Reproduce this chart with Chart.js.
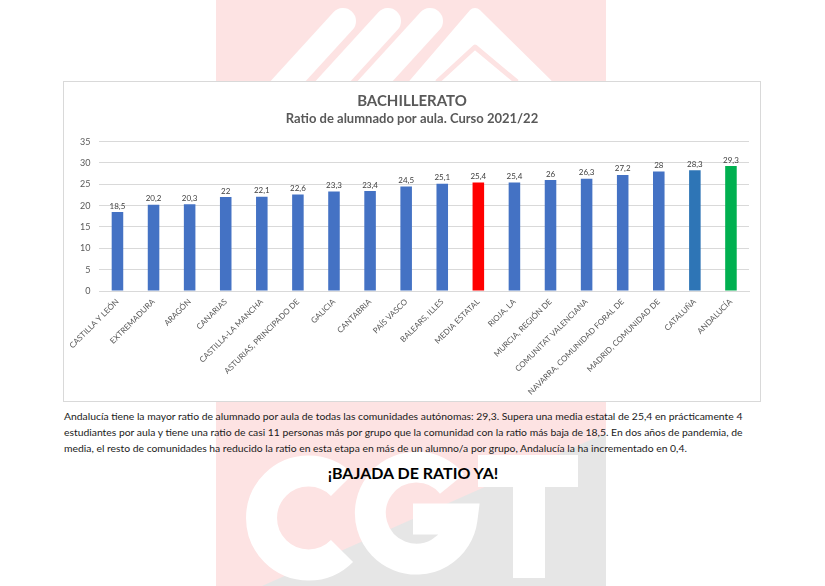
<!DOCTYPE html>
<html>
<head>
<meta charset="utf-8">
<script src="https://cdn.jsdelivr.net/npm/chart.js@4"></script>
<style>
  html, body { margin: 0; padding: 0; background: #fff; }
  body { width: 825px; height: 586px; position: relative; overflow: hidden; font-family: Lato, "Open Sans", sans-serif; }
  #logo { position: absolute; left: 0; top: 0; }
  #box { position: absolute; left: 63px; top: 81px; width: 696px; height: 319px; background: #fff; border: 1px solid #d9d9d9; }
  #plot { position: absolute; left: 0; top: 0; }
  #texto { position: absolute; left: 64px; top: 408px; width: 700px; font-size: 10.37px; line-height: 16px; color: #1a1a1a; white-space: nowrap; }
  #lema { position: absolute; left: 213px; top: 462px; width: 400px; text-align: center; font-size: 16px; line-height: 22px; font-weight: bold; color: #000; }
</style>
</head>
<body>
<svg id="logo" width="825" height="586" viewBox="0 0 825 586">
  <rect x="216" y="0" width="390" height="586" fill="#fde3e3"/>
  <polygon points="606,433 262,586 606,586" fill="#e6e6e6"/>
  <g fill="none" stroke="#fff" stroke-linecap="round">
    <line x1="343" y1="21" x2="280" y2="90" stroke-width="26"/>
    <line x1="388" y1="21" x2="325" y2="90" stroke-width="26"/>
    <line x1="430" y1="21" x2="367" y2="90" stroke-width="26"/>
  </g>
  <polygon points="475,15 415,85 546,85" fill="#fff" stroke="#fff" stroke-width="14" stroke-linejoin="round"/>
  <polyline points="437,82 475,47 517,82" fill="none" stroke="#fde3e3" stroke-width="5" stroke-linejoin="round"/>
  <g fill="none" stroke="#fff" stroke-width="31">
    <path d="M 342 485 A 47 47 0 1 0 342 551"/>
    <path d="M 452 484 A 46 46 0 1 0 462 519 L 413 519"/>
  </g>
  <rect x="478" y="455" width="100" height="32" fill="#fff"/>
  <rect x="513" y="455" width="32" height="123" fill="#fff"/>
</svg>

<div id="box"><canvas id="plot" width="696" height="319"></canvas></div>

<div id="texto">Andalucía tiene la mayor ratio de alumnado por aula de todas las comunidades autónomas: 29,3. Supera una media estatal de 25,4 en prácticamente 4<br>estudiantes por aula y tiene una ratio de casi 11 personas más por grupo que la comunidad con la ratio más baja de 18,5. En dos años de pandemia, de<br>media, el resto de comunidades ha reducido la ratio en esta etapa en más de un alumno/a por grupo, Andalucía la ha incrementado en 0,4.</div>
<div id="lema">¡BAJADA DE RATIO YA!</div>

<script>
const labels = ["CASTILLA Y LEÓN", "EXTREMADURA", "ARAGÓN", "CANARIAS", "CASTILLA-LA MANCHA",
  "ASTURIAS, PRINCIPADO DE", "GALICIA", "CANTABRIA", "PAÍS VASCO", "BALEARS, ILLES", "MEDIA ESTATAL",
  "RIOJA, LA", "MURCIA, REGIÓN DE", "COMUNITAT VALENCIANA", "NAVARRA, COMUNIDAD FORAL DE",
  "MADRID, COMUNIDAD DE", "CATALUÑA", "ANDALUCÍA"];
const ratios = [18.5, 20.2, 20.3, 22, 22.1, 22.6, 23.3, 23.4, 24.5, 25.1, 25.4, 25.4, 26, 26.3, 27.2, 28, 28.3, 29.3];
const barColors = ["#4472c4", "#4472c4", "#4472c4", "#4472c4", "#4472c4", "#4472c4", "#4472c4", "#4472c4", "#4472c4",
  "#4472c4", "#ff0000", "#4472c4", "#4472c4", "#4472c4", "#4472c4", "#4472c4", "#2e75b6", "#00b050"];

// numeros encima de cada barra, con coma decimal
const valueLabels = {
  id: "valueLabels",
  afterDatasetsDraw(chart) {
    const ctx = chart.ctx;
    const meta = chart.getDatasetMeta(0);
    ctx.save();
    ctx.font = "8px Lato";
    ctx.fillStyle = "#404040";
    ctx.textAlign = "center";
    ctx.textBaseline = "bottom";
    meta.data.forEach((bar, i) => {
      ctx.fillText(String(ratios[i]).replace(".", ","), bar.x, bar.y - 2);
    });
    ctx.restore();
  }
};

const data = {
  labels: labels,
  datasets: [{
    data: ratios,
    backgroundColor: barColors,
    barPercentage: 0.32,
    categoryPercentage: 1
  }]
};

const config = {
  type: "bar",
  data: data,
  plugins: [valueLabels],
  options: {
    responsive: false,
    animation: false,
    layout: { padding: { right: 11, left: 11, top: 0, bottom: 0 } },
    plugins: {
      legend: { display: false },
      tooltip: { enabled: false },
      title: {
        display: true,
        text: "BACHILLERATO",
        color: "#595959",
        font: { family: "Lato", size: 15, weight: "bold" },
        padding: { top: 10, bottom: 0 }
      },
      subtitle: {
        display: true,
        text: "Ratio de alumnado por aula. Curso 2021/22",
        color: "#595959",
        font: { family: "Lato", size: 13, weight: "bold" },
        padding: { top: 1, bottom: 15 }
      }
    },
    scales: {
      x: {
        grid: { display: false, drawTicks: false },
        border: { color: "#d9d9d9" },
        afterFit(scale) { scale.height = 110; },
        ticks: {
          autoSkip: false, minRotation: 45, maxRotation: 45, padding: 6,
          color: "#595959", font: { family: "Lato", size: 8 }
        }
      },
      y: {
        min: 0,
        max: 35,
        grid: { color: "#d9d9d9", drawTicks: false },
        border: { display: false },
        afterFit(scale) { scale.width = 20; },
        ticks: {
          stepSize: 5, padding: 9,
          color: "#595959", font: { family: "Lato", size: 9 }
        }
      }
    }
  }
};

let ctx = document.getElementById("plot").getContext("2d");
let chart = new Chart(ctx, config);
</script>
</body>
</html>
